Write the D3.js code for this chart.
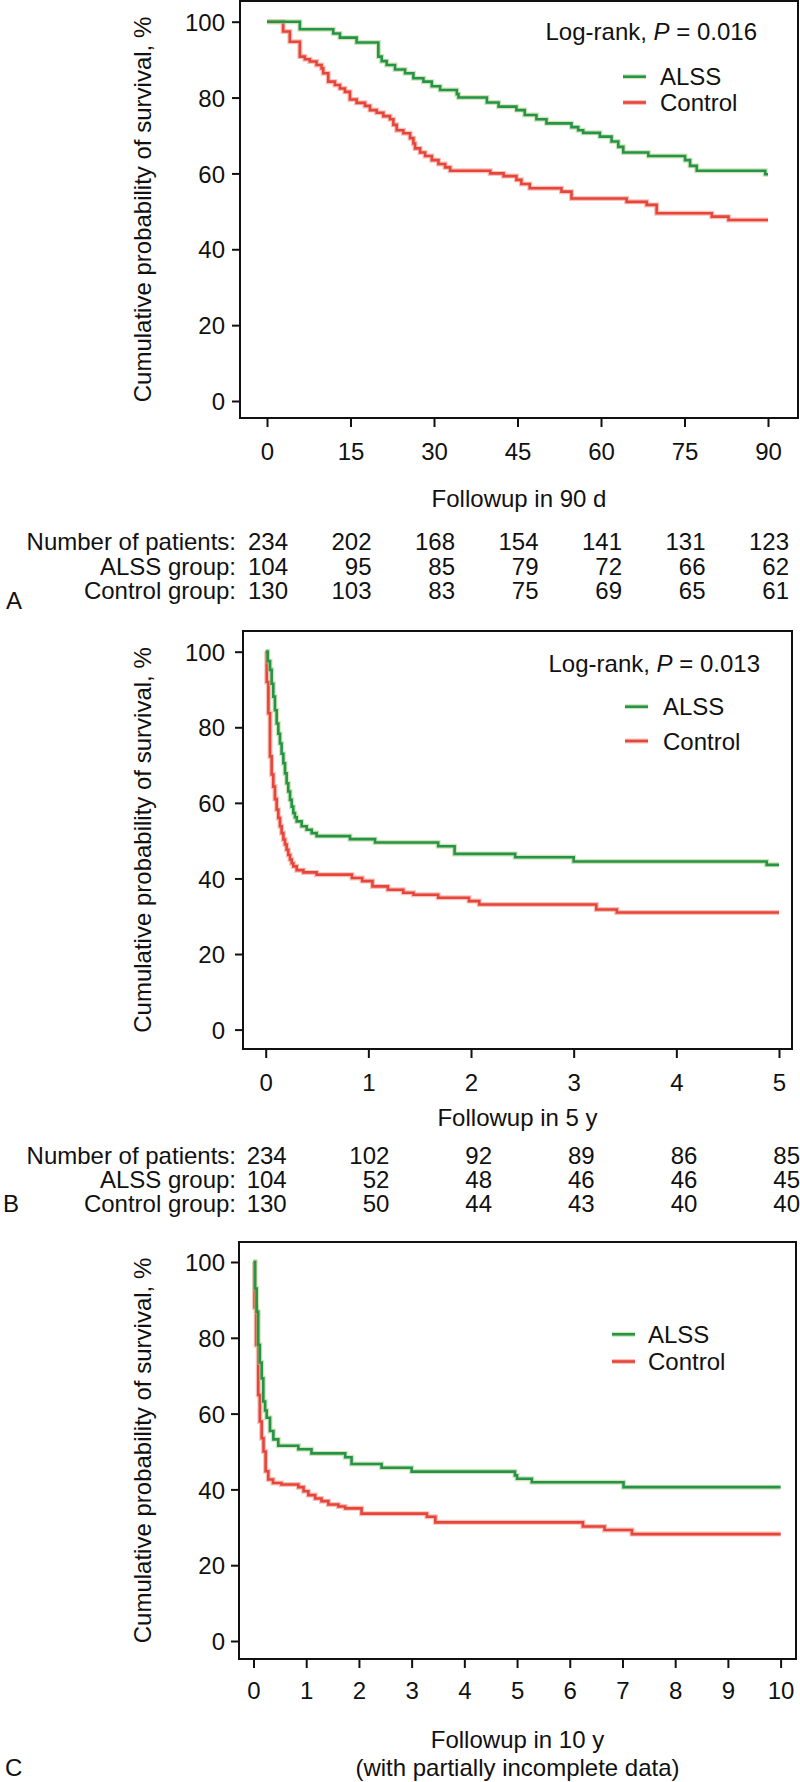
<!DOCTYPE html>
<html><head><meta charset="utf-8">
<script src="https://cdn.jsdelivr.net/npm/d3@7"></script>
<style>html,body{margin:0;padding:0;background:#fff;} svg{display:block;}</style>
</head><body>
<svg id="c" width="800" height="1782"></svg>
<script>
// ---------------- DATA ----------------
const yTicks = [0, 20, 40, 60, 80, 100];
const xTicksA = [0, 15, 30, 45, 60, 75, 90];
const xTicksB = [0, 1, 2, 3, 4, 5];
const xTicksC = [0, 1, 2, 3, 4, 5, 6, 7, 8, 9, 10];

// Kaplan-Meier step points [time, survival %]
const alssA = [[0,100],[5.9,98.0],[11.9,96.9],[13.1,95.8],[16.1,94.5],[20.0,90.8],[20.6,89.6],[21.5,88.6],[23.0,87.4],[24.8,86.4],[26.3,85.1],[28.1,84.2],[29.6,83.0],[31.1,82.0],[34.1,80.9],[34.4,80.0],[39.5,78.7],[41.6,77.6],[44.8,76.7],[46.3,75.4],[48.4,74.3],[50.2,73.2],[54.7,72.2],[55.9,71.4],[56.8,70.7],[59.8,69.7],[61.9,68.4],[63.1,67.0],[64.0,65.5],[68.5,64.6],[75.1,63.5],[76.0,62.0],[77.2,60.7],[89.5,59.8],[90,59.8]];
const controlA = [[0,100],[2.9,97.4],[4.1,94.7],[5.9,90.8],[6.8,90.1],[7.7,89.5],[8.9,88.6],[9.8,87.7],[10.1,86.4],[11.0,84.2],[12.2,83.3],[13.1,82.4],[14.0,81.5],[14.9,79.5],[16.1,78.6],[17.6,77.8],[18.5,76.7],[19.7,76.0],[20.9,75.1],[22.1,74.3],[22.7,72.8],[23.3,71.4],[24.5,70.6],[25.7,69.3],[26.3,67.9],[26.6,66.6],[27.5,65.5],[28.4,64.6],[29.6,63.5],[30.8,62.5],[32.0,61.6],[32.9,60.7],[40.1,60.0],[42.5,59.3],[44.8,58.3],[45.7,57.2],[47.2,56.1],[52.9,55.2],[54.7,53.4],[64.6,52.5],[68.2,51.7],[70.0,49.5],[79.9,48.6],[82.9,47.7],[90,47.7]];

const alssB = [[0,100],[0.02,97.5],[0.042,95.2],[0.058,91.5],[0.074,88.1],[0.09,84.5],[0.107,81.0],[0.123,78.3],[0.139,75.7],[0.155,73.0],[0.172,70.5],[0.188,67.8],[0.204,65.2],[0.22,63.0],[0.237,60.8],[0.253,59.0],[0.269,57.3],[0.285,56.2],[0.302,55.1],[0.35,53.8],[0.399,52.9],[0.448,52.0],[0.496,51.2],[0.821,50.4],[1.065,49.5],[1.68,48.5],[1.84,46.5],[2.43,45.6],[3.0,44.5],[4.88,43.6],[5,43.6]];
const controlB = [[0,100],[0.01,92.0],[0.026,83.7],[0.042,72.3],[0.058,67.5],[0.074,64.3],[0.09,61.0],[0.107,58.2],[0.123,56.0],[0.139,53.8],[0.155,52.0],[0.172,50.3],[0.188,49.0],[0.204,47.6],[0.22,46.2],[0.237,45.0],[0.253,44.0],[0.269,43.2],[0.302,42.2],[0.367,41.6],[0.496,41.0],[0.84,40.1],[0.94,39.3],[1.04,37.9],[1.19,37.0],[1.34,36.2],[1.44,35.7],[1.68,34.9],[1.98,34.0],[2.08,33.1],[3.22,31.8],[3.42,31.0],[5,31.0]];

const alssC = [[0,100],[0.03,93.0],[0.06,86.9],[0.09,78.1],[0.12,73.5],[0.155,69.3],[0.186,63.2],[0.22,60.8],[0.25,58.9],[0.313,55.4],[0.377,53.2],[0.47,51.5],[0.85,50.6],[1.1,49.5],[1.74,48.5],[1.86,46.7],[2.43,45.7],[3.0,44.7],[4.96,43.7],[5.0,42.8],[5.28,41.9],[7.02,40.6],[10,40.6]];
const controlC = [[0,100],[0.02,88.0],[0.05,78.1],[0.09,64.9],[0.12,57.9],[0.155,53.5],[0.19,50.0],[0.23,44.8],[0.28,42.6],[0.37,41.7],[0.53,41.3],[0.85,40.6],[0.95,39.5],[1.04,38.5],[1.17,37.6],[1.29,36.9],[1.42,36.0],[1.61,35.5],[1.74,35.0],[2.05,33.6],[3.29,32.8],[3.45,31.3],[6.25,30.2],[6.66,29.3],[7.18,28.2],[10,28.2]];

const riskRowLabels = ["Number of patients:", "ALSS group:", "Control group:"];
const riskTotalA = [234, 202, 168, 154, 141, 131, 123];
const riskAlssA = [104, 95, 85, 79, 72, 66, 62];
const riskControlA = [130, 103, 83, 75, 69, 65, 61];
const riskTotalB = [234, 102, 92, 89, 86, 85];
const riskAlssB = [104, 52, 48, 46, 46, 45];
const riskControlB = [130, 50, 44, 43, 40, 40];

const pValues = ["0.016", "0.013", null];
const legendLabels = ["ALSS", "Control"];
const xTitles = [["Followup in 90 d"], ["Followup in 5 y"], ["Followup in 10 y", "(with partially incomplete data)"]];
const yTitle = "Cumulative probability of survival, %";
const panelLetters = ["A", "B", "C"];

// ---------------- STYLE / LAYOUT ----------------
const FONT = "'Liberation Sans', Arial, Helvetica, sans-serif";
const FS = 24;
const GREEN = "#25944a", RED = "#e6453a";
const GREEN_HALO = "rgba(170,205,120,0.55)", RED_HALO = "rgba(242,150,140,0.6)";

const layouts = [
  {frame:[240,1,798,418], xr:[267,768], yr:[401,21.7], tickLab:33.7, xlabY:[498], logY:31.7, logX:757, legX:623, legTX:660, legY:[76.7,102.5], riskY:[541,566,590], letter:[6,600]},
  {frame:[243,631,792,1049], xr:[265.7,779], yr:[1029.6,651.7], tickLab:33, xlabY:[1117], logY:663.3, logX:760, legX:625, legTX:663, legY:[706.7,741], riskY:[1155,1179,1203], letter:[3,1203]},
  {frame:[239,1242,796,1659], xr:[253.5,780.6], yr:[1641,1262], tickLab:31, xlabY:[1739.5,1767], logY:null, legX:612, legTX:648, legY:[1334.3,1361.5], riskY:null, letter:[5,1767]}
];

const panelsData = [
  {xTicks:xTicksA, alss:alssA, ctrl:controlA, risk:[riskTotalA, riskAlssA, riskControlA]},
  {xTicks:xTicksB, alss:alssB, ctrl:controlB, risk:[riskTotalB, riskAlssB, riskControlB]},
  {xTicks:xTicksC, alss:alssC, ctrl:controlC, risk:null}
];

const svg = d3.select("#c");

function T(g, x, yc, s, anchor) {
  return g.append("text")
    .attr("x", x).attr("y", yc + FS*0.36)
    .attr("text-anchor", anchor || "start")
    .attr("font-family", FONT).attr("font-size", FS).attr("fill", "#111")
    .text(s);
}

panelsData.forEach((pd, i) => {
  const L = layouts[i];
  const [fl, ft, fr, fb] = L.frame;
  const x = d3.scaleLinear().domain(d3.extent(pd.xTicks)).range(L.xr);
  const y = d3.scaleLinear().domain([0, 100]).range(L.yr);
  const g = svg.append("g");

  // frame
  g.append("rect").attr("x", fl).attr("y", ft).attr("width", fr - fl).attr("height", fb - ft)
    .attr("fill", "none").attr("stroke", "#111").attr("stroke-width", 2);

  // y axis
  const ya = g.append("g").attr("transform", `translate(${fl},0)`)
    .call(d3.axisLeft(y).tickValues(yTicks).tickFormat(d3.format("d")).tickSize(8).tickSizeOuter(0));
  ya.select(".domain").remove();
  ya.selectAll("line").attr("stroke", "#111").attr("stroke-width", 2);
  ya.selectAll("text").attr("x", -(fl - 225)).attr("dy", null).attr("y", FS*0.36)
    .attr("text-anchor", "end").attr("font-family", FONT).attr("font-size", FS).attr("fill", "#111");

  // x axis
  const xa = g.append("g").attr("transform", `translate(0,${fb})`)
    .call(d3.axisBottom(x).tickValues(pd.xTicks).tickFormat(d3.format("d")).tickSize(9).tickSizeOuter(0));
  xa.select(".domain").remove();
  xa.selectAll("line").attr("stroke", "#111").attr("stroke-width", 2);
  xa.selectAll("text").attr("dy", null).attr("y", L.tickLab + FS*0.36)
    .attr("text-anchor", "middle").attr("font-family", FONT).attr("font-size", FS).attr("fill", "#111");

  // y title
  const cy = (ft + fb) / 2;
  g.append("text")
    .attr("transform", `translate(151,${cy}) rotate(-90)`)
    .attr("text-anchor", "middle").attr("font-family", FONT).attr("font-size", FS).attr("fill", "#111")
    .text(yTitle);

  // x title(s)
  const cx = (fl + fr) / 2;
  xTitles[i].forEach((s, k) => T(g, cx, L.xlabY[k], s, "middle"));

  // curves
  const line = d3.line().x(d => x(d[0])).y(d => y(d[1])).curve(d3.curveStepAfter);
  [[pd.ctrl, RED, RED_HALO], [pd.alss, GREEN, GREEN_HALO]].forEach(([data, col, halo]) => {
    g.append("path").attr("d", line(data)).attr("fill", "none").attr("stroke", halo).attr("stroke-width", 5);
    g.append("path").attr("d", line(data)).attr("fill", "none").attr("stroke", col).attr("stroke-width", 2.6);
  });

  // log-rank
  if (pValues[i]) {
    const t = g.append("text")
      .attr("x", L.logX).attr("y", L.logY + FS*0.36)
      .attr("text-anchor", "end").attr("font-family", FONT).attr("font-size", FS).attr("fill", "#111");
    t.append("tspan").text("Log-rank, ");
    t.append("tspan").attr("font-style", "italic").text("P");
    t.append("tspan").text(" = " + pValues[i]);
  }

  // legend
  [[GREEN, GREEN_HALO], [RED, RED_HALO]].forEach(([col, halo], k) => {
    const ly = L.legY[k];
    g.append("line").attr("x1", L.legX).attr("x2", L.legX + 23).attr("y1", ly).attr("y2", ly)
      .attr("stroke", halo).attr("stroke-width", 5);
    g.append("line").attr("x1", L.legX).attr("x2", L.legX + 23).attr("y1", ly).attr("y2", ly)
      .attr("stroke", col).attr("stroke-width", 2.6);
    T(g, L.legTX, ly, legendLabels[k], "start");
  });

  // risk table
  if (pd.risk) {
    riskRowLabels.forEach((lab, r) => {
      T(g, 236, L.riskY[r], lab, "end");
      pd.risk[r].forEach((v, c) => T(g, x(pd.xTicks[c]) + 21, L.riskY[r], String(v), "end"));
    });
  }

  // panel letter
  T(g, L.letter[0], L.letter[1], panelLetters[i], "start");
});
</script>
</body></html>
